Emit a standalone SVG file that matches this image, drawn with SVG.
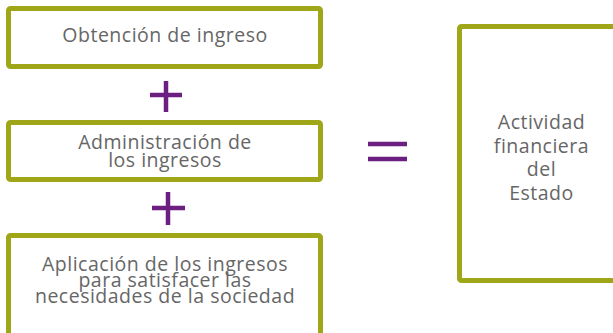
<svg xmlns="http://www.w3.org/2000/svg" width="613" height="333" viewBox="0 0 613 333">
<style>
.box{fill:#fff;stroke:#9fa617;stroke-width:5;}
.t{font-family:"Open Sans","Noto Sans",sans-serif;font-size:19.5px;fill:#666;text-anchor:middle;letter-spacing:0.5px;}
.op{stroke:#6b1f80;stroke-width:4.5;fill:none;}
</style>
<rect width="613" height="333" fill="#fff"/>
<g id="n1">
<rect class="box" x="8.5" y="8.5" width="312" height="58" rx="2"/>
<text class="t" x="165" y="42">Obtención de ingreso</text>
</g>
<g id="n2">
<rect class="box" x="8.5" y="122.5" width="312" height="57" rx="2"/>
<text class="t" x="165" y="149">Administración de</text>
<text class="t" x="165" y="167">los ingresos</text>
</g>
<g id="n3">
<rect class="box" x="8.5" y="235.5" width="312" height="110" rx="2"/>
<text class="t" x="165" y="271">Aplicación de los ingresos</text>
<text class="t" x="165" y="287">para satisfacer las</text>
<text class="t" x="165" y="303">necesidades de la sociedad</text>
</g>
<g id="n4">
<rect class="box" x="459.5" y="26.5" width="170" height="254" rx="2"/>
<text class="t" x="541.5" y="129">Actividad</text>
<text class="t" x="541.5" y="152.5">financiera</text>
<text class="t" x="541.5" y="176">del</text>
<text class="t" x="541.5" y="199.5">Estado</text>
</g>
<g id="connectors">
<path class="op" d="M150 95H182M166 81V112"/>
<path class="op" d="M152 208H185M168 192V225"/>
<path class="op" d="M368 144H407M368 159H407"/>
</g>
</svg>
